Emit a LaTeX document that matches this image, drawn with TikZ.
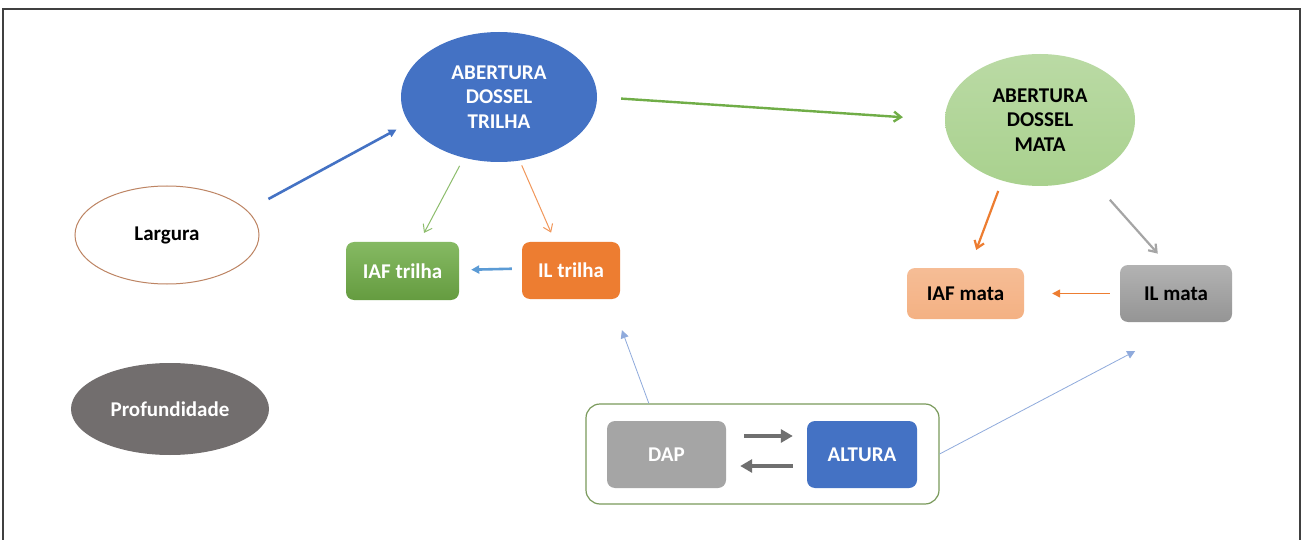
\documentclass[tikz,border=0pt]{standalone}
\usepackage{fontspec}
\setmainfont{Carlito}
\usetikzlibrary{shapes.geometric,arrows.meta}
\definecolor{cblue}{HTML}{4472C4}
\definecolor{cgreenell}{HTML}{A9D18E}
\definecolor{cgreen}{HTML}{70AD47}
\definecolor{corange}{HTML}{ED7D31}
\definecolor{csalmon}{HTML}{F4B183}
\definecolor{cgray}{HTML}{A5A5A5}
\definecolor{cdark}{HTML}{726E6E}
\definecolor{cbrown}{HTML}{BD8463}
\definecolor{cbox}{HTML}{7A9A5C}
\definecolor{cthin}{HTML}{8FAADC}
\definecolor{clight}{HTML}{5B9BD5}
\definecolor{carrow}{HTML}{6F6F6F}
\definecolor{cframe}{HTML}{404040}
\tikzset{
  txt/.style={font=\fontsize{21}{24.5}\selectfont\bfseries, align=center},
  ell/.style={ellipse, txt, inner sep=0pt},
  boxn/.style={rectangle, rounded corners=8pt, txt, inner sep=0pt},
  barb/.style={-{Straight Barb[length=7pt,width=10pt]}},
  tri/.style={-{Triangle[length=8pt,width=8pt]}},
}
\begin{document}
\begin{tikzpicture}[x=1pt,y=-1pt]
\useasboundingbox (0,0) rectangle (1304,540);
\fill[white] (0,0) rectangle (1304,540);
\draw[cframe, line width=1.6pt] (3,541) -- (3,9) -- (1300,9) -- (1300,541);

% nodes
\node[ell, fill=cblue, text=white, minimum width=196pt, minimum height=130pt] (ab) at (499,97) {ABERTURA\\DOSSEL\\TRILHA};
\node[ell, top color=cgreenell!80!white, bottom color=cgreenell, text=black, minimum width=190pt, minimum height=132pt] (am) at (1040,120) {ABERTURA\\DOSSEL\\MATA};
\node[ell, fill=white, draw=cbrown, line width=1pt, text=black, minimum width=184pt, minimum height=98pt] (lar) at (167,235) {Largura};
\node[ell, fill=cdark, text=white, minimum width=198pt, minimum height=92pt] (prof) at (170,409) {Profundidade};
\node[boxn, top color=cgreen!85!white, bottom color=cgreen!90!black, text=white, minimum width=113pt, minimum height=58pt] (iaf) at (402.5,271) {IAF trilha};
\node[boxn, fill=corange, text=white, minimum width=98pt, minimum height=57pt] (ilt) at (571,270.5) {IL trilha};
\node[boxn, top color=csalmon!85!white, bottom color=csalmon, text=black, minimum width=117pt, minimum height=51pt] (iafm) at (965.5,293.5) {IAF mata};
\node[boxn, top color=cgray!85!white, bottom color=cgray!90!black, text=black, minimum width=112pt, minimum height=57pt] (ilm) at (1176,293.5) {IL mata};
\node[rectangle, rounded corners=14pt, draw=cbox, line width=1.2pt, fill=white, minimum width=353pt, minimum height=100pt, inner sep=0pt] (cont) at (762.5,454) {};
\node[boxn, fill=cgray, text=white, minimum width=119pt, minimum height=67pt] (dap) at (666.5,454.5) {DAP};
\node[boxn, fill=cblue, text=white, minimum width=110pt, minimum height=67pt] (alt) at (862,454.5) {ALTURA};

% connectors
\draw[cblue, line width=2.6pt, tri, shorten <=24pt, shorten >=14pt] (lar.17) -- (ab.196);
\draw[cgreen, line width=2.4pt, barb, shorten <=24pt, shorten >=42pt] (ab.0) -- (am.180);
\draw[cgreen!80!white, line width=1pt, barb, shorten <=9pt, shorten >=10pt] (ab.240) -- (iaf.60);
\draw[corange!80!white, line width=1pt, barb, shorten <=5pt, shorten >=10pt] (ab.288) -- (ilt.119);
\draw[clight, line width=2.6pt, tri, shorten <=10pt, shorten >=12pt] ([yshift=2pt]ilt.west) -- ([yshift=1pt]iaf.east);
\draw[corange, line width=2.2pt, barb, shorten <=11pt, shorten >=19pt] (am.238) -- (iafm.81);
\draw[cgray, line width=2.2pt, barb, shorten <=31pt, shorten >=15pt] (am.311) -- (ilm.106);
\draw[corange, line width=1.3pt, tri, shorten <=10pt, shorten >=28pt] (ilm.west) -- (iafm.east);
\draw[cthin, line width=0.8pt, tri, shorten >=33pt] (cont.156) -- (ilt.324);
\draw[cthin, line width=0.8pt, tri, shorten >=62pt] (cont.east) -- (ilm.296);
\draw[carrow, line width=4pt, -{Triangle[length=12pt,width=13pt]}, shorten <=18pt, shorten >=14pt] ([yshift=18.5pt]dap.east) -- ([yshift=18.5pt]alt.west);
\draw[carrow, line width=4pt, -{Triangle[length=12pt,width=13pt]}, shorten <=14pt, shorten >=14pt] ([yshift=-11.5pt]alt.west) -- ([yshift=-11.5pt]dap.east);
\end{tikzpicture}
\end{document}
